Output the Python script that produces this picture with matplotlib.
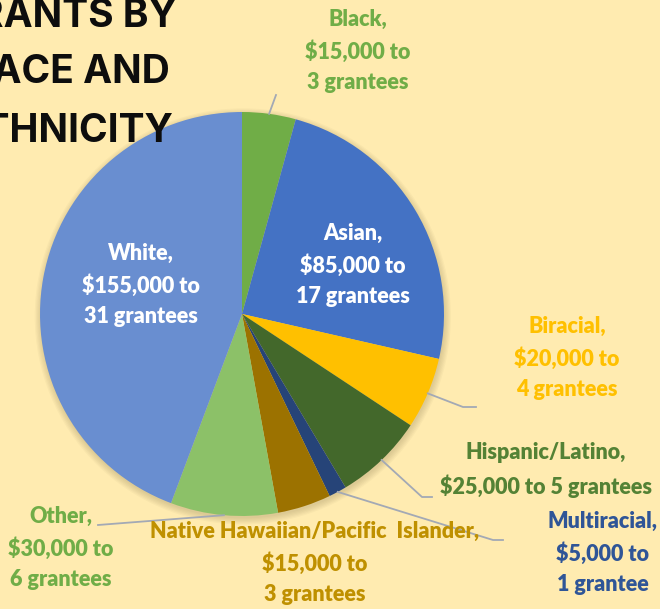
import matplotlib
matplotlib.use("Agg")
import matplotlib.pyplot as plt
import numpy as np

# data
groups = ["Black", "Asian", "Biracial", "Hispanic/Latino", "Multiracial",
          "Native Hawaiian/Pacific  Islander", "Other", "White"]
amounts = [15000, 85000, 20000, 25000, 5000, 15000, 30000, 155000]
grantees = [3, 17, 4, 5, 1, 3, 6, 31]
title_lines = ["GRANTS BY", "RACE AND", "ETHNICITY"]

# styling
bg = "#FFEBB0"
slice_colors = ["#70AD47", "#4472C4", "#FFC000", "#43682B", "#264478",
                "#9C7200", "#8CC168", "#698ED0"]
text_colors = ["#70AD47", "#FFFFFF", "#FFC000", "#548235", "#2F5597",
               "#BF9000", "#70AD47", "#FFFFFF"]
# second line break: Hispanic keeps amount and count on one line
joiners = ["\n", "\n", "\n", " ", "\n", "\n", "\n", "\n"]
# label centres in pixels (x, y from top)
label_px = [(358, 51), (353, 265), (567, 358), (546, 470), (603, 553),
            (315, 563), (61, 548), (141, 285)]
# leader line points in pixels (None = label inside slice)
leader_px = [[(276, 95)], None, [(463, 407), (476, 407)],
             [(422, 497), (432, 497)], [(493, 540), (503, 540)],
             None, [(98, 525)], None]

W, H = 660, 609
cx, cy, R = 242, 314, 202


def toData(p):
    return ((p[0] - cx) / R, (cy - p[1]) / R)


fig = plt.figure(figsize=(W / 100, H / 100), dpi=100, facecolor=bg)
ax = fig.add_axes([(cx - R) / W, (H - cy - R) / H, 2 * R / W, 2 * R / H])

wedges, _ = ax.pie(amounts, colors=slice_colors, startangle=90, counterclock=False,
                   radius=1, wedgeprops={"linewidth": 0, "zorder": 1})
ax.set_xlim(-1, 1)
ax.set_ylim(-1, 1)
ax.set_aspect("equal")
ax.axis("off")

# soft shadow round the pie
for k in range(6):
    ax.add_patch(plt.Circle((0.004, -0.012), 1.0 + 0.006 * k, color="#8a7a50",
                            alpha=0.05, zorder=0, lw=0, clip_on=False))

for i, w in enumerate(wedges):
    n = grantees[i]
    label = f"{groups[i]},\n${amounts[i]:,} to{joiners[i]}{n} grantee{'s' if n > 1 else ''}"
    lx, ly = toData(label_px[i])
    ax.text(lx, ly, label, ha="center", va="center", color=text_colors[i],
            fontsize=15.5, fontweight="heavy", family="Lato", linespacing=1.55,
            parse_math=False, clip_on=False, zorder=5)
    if leader_px[i] is not None:
        mid = np.deg2rad((w.theta1 + w.theta2) / 2)
        pts = [(np.cos(mid), np.sin(mid))] + [toData(p) for p in leader_px[i]]
        xs, ys = zip(*pts)
        ax.plot(xs, ys, color="#A3A9B5", lw=1.3, clip_on=False, zorder=4)

# title, cropped at the left edge like the reference
title_right = [177, 170, 173]
title_base = [27, 83, 142]
for line, xr, yb in zip(title_lines, title_right, title_base):
    fig.text(xr / W, 1 - yb / H, line, ha="right", va="baseline", fontsize=28,
             fontweight="bold", family="Inter", color="#0d0d0d", zorder=10)

fig.savefig("out.png", dpi=100, facecolor=bg)
